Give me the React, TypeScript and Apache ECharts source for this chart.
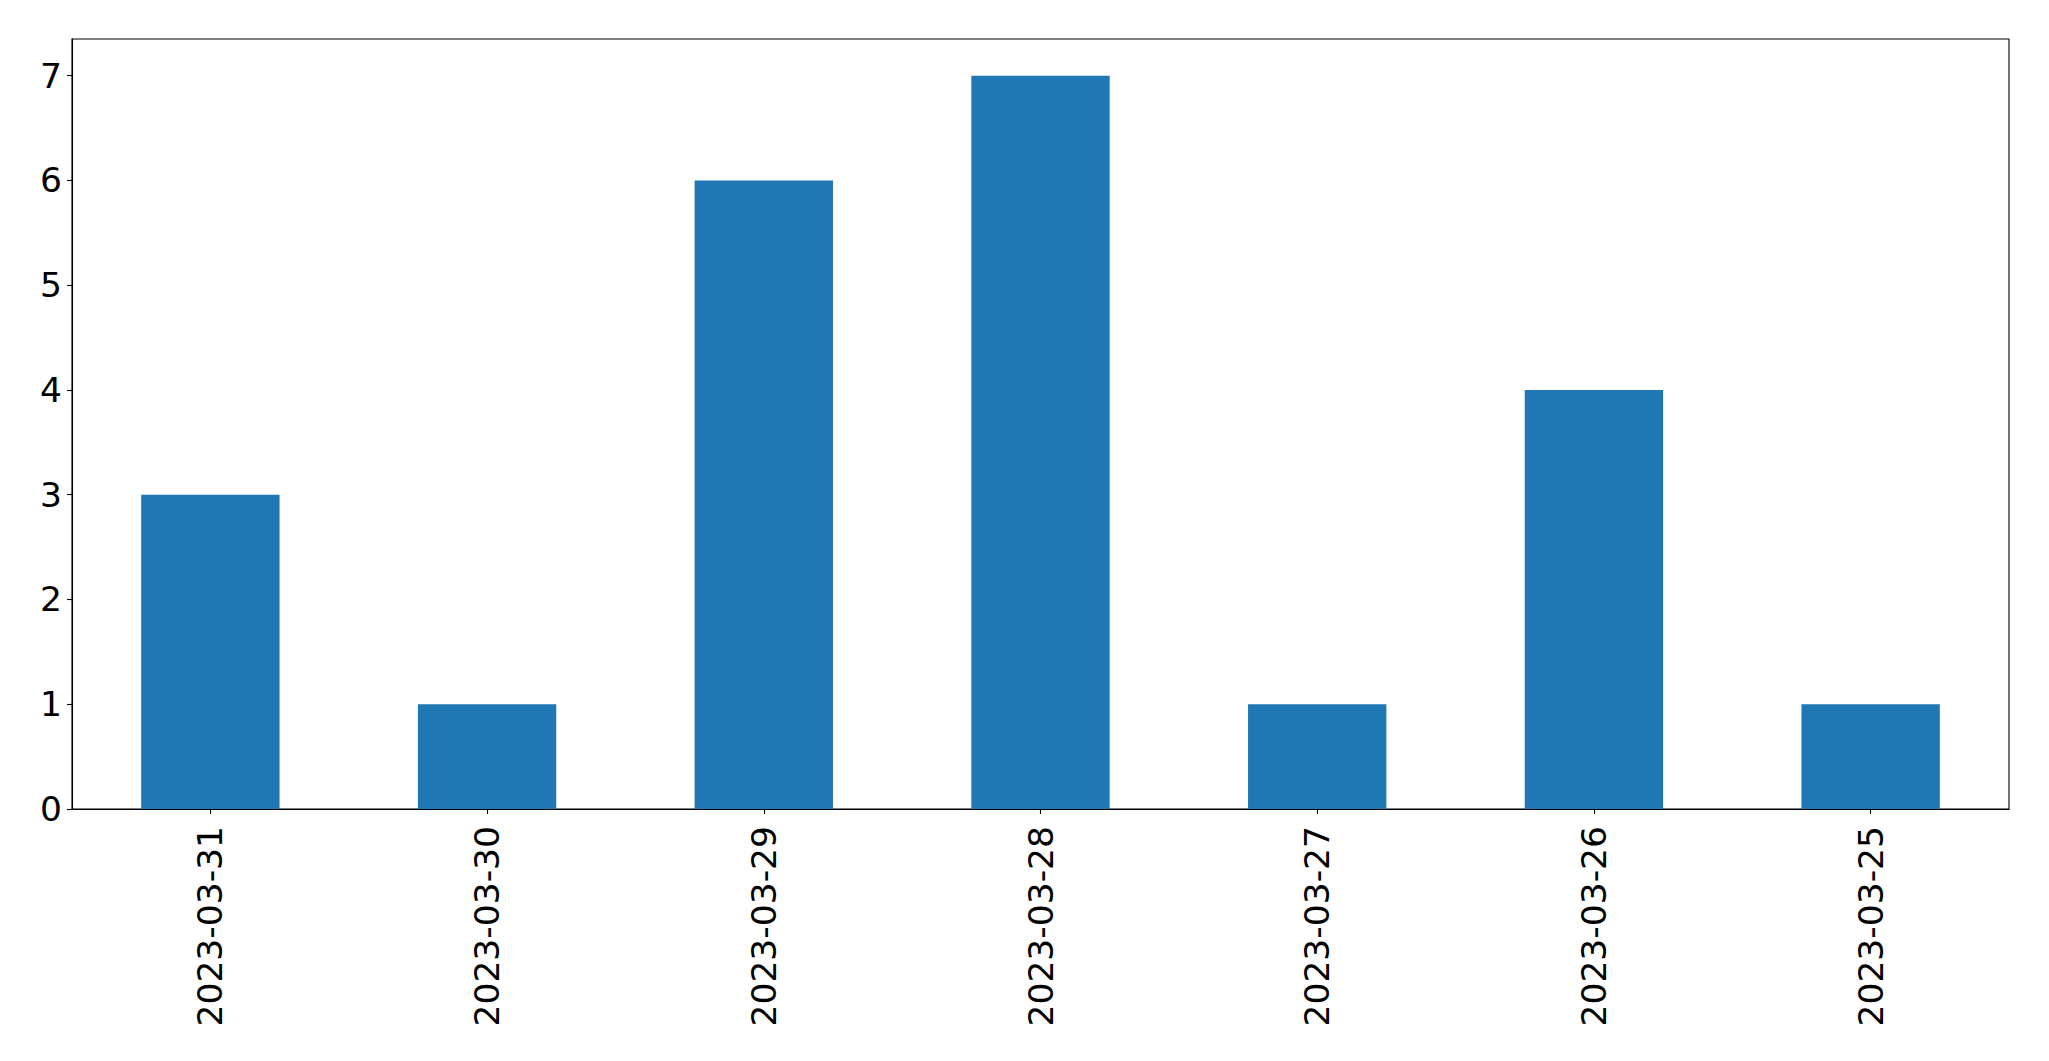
import React, { useEffect, useRef } from "react";
import * as echarts from "echarts";

const categories = ["2023-03-31", "2023-03-30", "2023-03-29", "2023-03-28", "2023-03-27", "2023-03-26", "2023-03-25"];
const values = [3, 1, 6, 7, 1, 4, 1];
const yTicks = [0, 1, 2, 3, 4, 5, 6, 7];

export default function App() {
  const ref = useRef<HTMLDivElement>(null);
  useEffect(() => {
    if (!ref.current) return;
    const chart = echarts.init(ref.current, null, { renderer: "svg" });
    chart.setOption({
      animation: false,
      backgroundColor: "#ffffff",
      textStyle: { fontFamily: "DejaVu Sans" },
      grid: {
        left: 72,
        right: 40,
        top: 39,
        bottom: 252,
        show: true,
        borderColor: "#000000",
        borderWidth: 1.1,
        containLabel: false,
      },
      xAxis: {
        type: "category",
        data: categories,
        boundaryGap: true,
        axisLine: { show: true, lineStyle: { color: "#000000", width: 1.1 } },
        axisTick: { show: true, alignWithLabel: true, length: 5, lineStyle: { color: "#000000", width: 1.1 } },
        axisLabel: {
          rotate: 90,
          margin: 17,
          fontSize: 34.5,
          color: "#000000",
          fontFamily: "DejaVu Sans",
          interval: 0,
        },
        splitLine: { show: false },
      },
      yAxis: {
        type: "value",
        min: 0,
        max: 7.35,
        interval: 1,
        axisLine: { show: true, lineStyle: { color: "#000000", width: 1.1 } },
        axisTick: { show: true, length: 5, customValues: yTicks, lineStyle: { color: "#000000", width: 1.1 } },
        axisLabel: {
          customValues: yTicks,
          margin: 10,
          fontSize: 34.5,
          color: "#000000",
          fontFamily: "DejaVu Sans",
        },
        splitLine: { show: false },
      },
      series: [
        {
          type: "bar",
          data: values,
          barWidth: "50%",
          itemStyle: { color: "#1f77b4" },
        },
      ],
    });
    return () => chart.dispose();
  }, []);
  return (
    <div
      ref={ref}
      style={{ position: "absolute", left: 0, top: 0, width: 2049, height: 1061 }}
    />
  );
}
